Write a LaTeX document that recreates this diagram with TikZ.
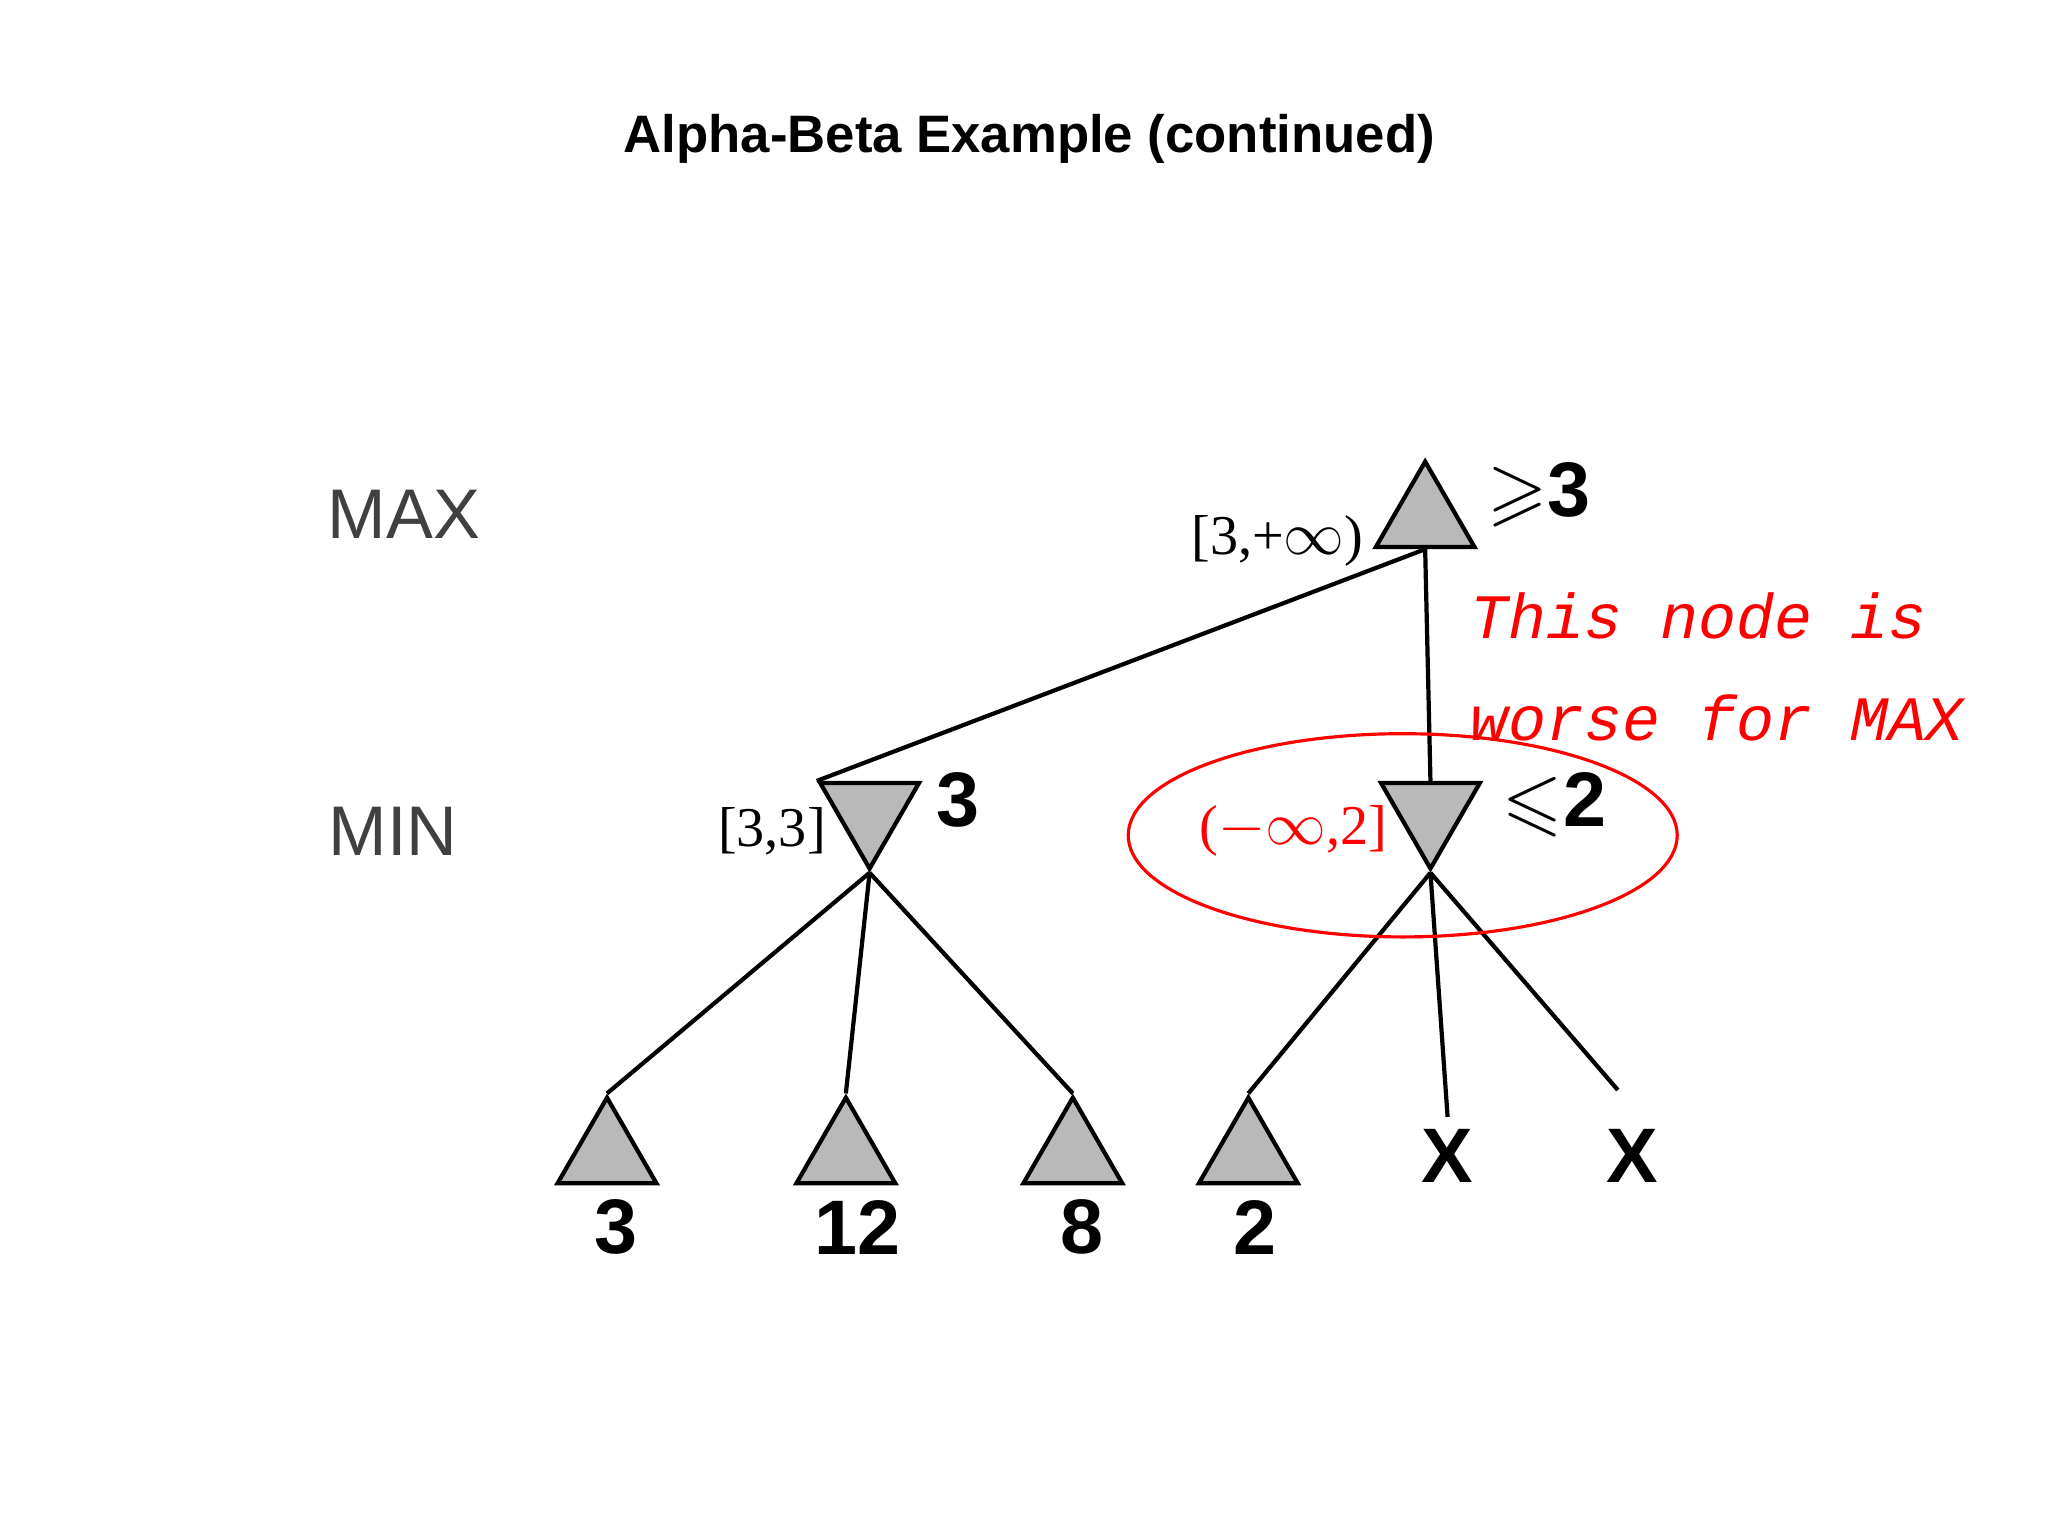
\documentclass[tikz,border=0pt]{standalone}
\usepackage{amssymb}
\usepackage{fontspec}
\setmainfont{Liberation Serif}
\setsansfont{Liberation Sans}
\setmonofont{Liberation Mono}
\usetikzlibrary{shapes.geometric}
\tikzset{
  maxnode/.style={regular polygon, regular polygon sides=3, draw=black, line width=1.2pt, fill=gray!55, minimum size=1.14cm, inner sep=0pt},
  minnode/.style={maxnode, shape border rotate=180},
  val/.style={font=\sffamily\bfseries\fontsize{22}{22}\selectfont},
  lvl/.style={font=\sffamily\fontsize{20}{20}\selectfont, text=black!75},
  bnd/.style={font=\fontsize{16}{16}\selectfont},
  edge/.style={line width=1.2pt}
}
\begin{document}
\begin{tikzpicture}[x=0.0132cm,y=-0.0132cm]
    \useasboundingbox (0,0) rectangle (1552,1164);
    \node[font=\sffamily\bfseries\fontsize{15}{15}\selectfont] (title) at (780,105) {Alpha-Beta Example (continued)};
    \node[lvl] (lmax) at (306,390) {MAX};
    \node[lvl] (lmin) at (298,630) {MIN};
    
    % tree nodes
    \node[maxnode] (root) at (1080,393) {};
    \node[minnode] (ma) at (659,615) {};
    \node[minnode] (mb) at (1084,615) {};
    \node[maxnode] (l1) at (460,875) {};
    \node[maxnode] (l2) at (641,875) {};
    \node[maxnode] (l3) at (813,875) {};
    \node[maxnode] (l4) at (946,875) {};
    \node[val] (x1) at (1097,876) {X};
    \node[val] (x2) at (1237,876) {X};
    \coordinate (x2top) at (1226,826);
    
    % edges
    \draw[edge] (root.south) -- (ma.corner 3);
    \draw[edge] (root.south) -- (mb.north);
    \draw[edge] (ma.corner 1) -- (l1.corner 1);
    \draw[edge] (ma.corner 1) -- (l2.corner 1);
    \draw[edge] (ma.corner 1) -- (l3.corner 1);
    \draw[edge] (mb.corner 1) -- (l4.corner 1);
    \draw[edge] (mb.corner 1) -- (x1.north);
    \draw[edge] (mb.corner 1) -- (x2top);
    
    % values
    \node[val] (v0) at (1166,375) {$\geqslant$3};
    \node[val] (va) at (726,606) {3};
    \node[val] (vb) at (1178,610) {$\leqslant$2};
    \node[val] (v1) at (467,930) {3};
    \node[val] (v2) at (650,930) {12};
    \node[val] (v3) at (820,930) {8};
    \node[val] (v4) at (951,930) {2};
    
    % bounds
    \node[bnd] (b0) at (968,410) {[3,+$\infty$)};
    \node[bnd] (ba) at (585,630) {[3,3]};
    \node[bnd, text=red] (bb) at (980,630) {($-\infty$,2]};
    \draw[red, line width=0.9pt] (1063,633) ellipse (208 and 77);
    \node[anchor=north west, text=red, align=left, font=\ttfamily\itshape\fontsize{18}{29}\selectfont] (note) at (1105,440) {This node is\\worse for MAX};
\end{tikzpicture}
\end{document}
